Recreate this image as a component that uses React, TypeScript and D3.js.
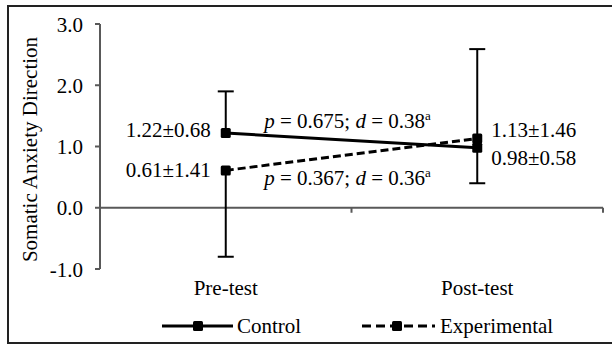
import React from "react";
import * as d3 from "d3";

const categories = ["Pre-test", "Post-test"];
const controlMean = [1.22, 0.98];
const controlSD = [0.68, 0.58];
const expMean = [0.61, 1.13];
const expSD = [1.41, 1.46];
// which side of the mean each group's error bar is drawn (+1 up, -1 down)
const controlBarSide = [1, -1];
const expBarSide = [-1, 1];
const yTicks = [-1, 0, 1, 2, 3];
const statLabels = [
  { p: "0.675", d: "0.38" },
  { p: "0.367", d: "0.36" },
];

const W = 612;
const H = 344;
const font = "'Liberation Serif', 'Times New Roman', serif";
const axisColor = "#595959";

const App = () => {
  const x = d3.scaleBand().domain(categories).range([100, 603]);
  const y = d3.scaleLinear().domain([-1, 3]).range([269, 24]);
  const cx = (c: string) => (x(c) as number) + x.bandwidth() / 2;

  const line = d3
    .line<number>()
    .x((_, i) => cx(categories[i]))
    .y((d) => y(d));

  const fmt = d3.format(".2f");
  const label = (m: number, s: number) => `${fmt(m)}±${fmt(s)}`;

  const errorBar = (c: string, m: number, s: number, side: number, key: string) => {
    const end = y(m + side * s);
    return (
      <g key={key} stroke="#000" strokeWidth={2}>
        <line x1={cx(c)} x2={cx(c)} y1={y(m)} y2={end} />
        <line x1={cx(c) - 8} x2={cx(c) + 8} y1={end} y2={end} />
      </g>
    );
  };

  const marker = (px: number, py: number, key: string) => (
    <rect key={key} x={px - 5} y={py - 5} width={10} height={10} rx={1.5} fill="#000" />
  );

  const midX = (cx(categories[0]) + cx(categories[1])) / 2 - 4;
  const ctrlMid = y((controlMean[0] + controlMean[1]) / 2);
  const expMid = y((expMean[0] + expMean[1]) / 2);

  const stat = (s: { p: string; d: string }, yy: number, key: string) => (
    <text key={key} x={midX} y={yy} textAnchor="middle">
      <tspan fontStyle="italic">p</tspan>
      {` = ${s.p}; `}
      <tspan fontStyle="italic">d</tspan>
      {` = ${s.d}`}
      <tspan fontSize={13} dy={-8}>a</tspan>
    </text>
  );

  return (
    <svg
      width={W}
      height={H}
      style={{ position: "absolute", left: 0, top: 0, background: "#fff", fontFamily: font, fontSize: 21 }}
    >
      <rect x={8} y={6} width={612} height={337} fill="#fff" stroke="#222" strokeWidth={2} />

      {/* y axis */}
      <line x1={100} x2={100} y1={y(3)} y2={y(-1)} stroke={axisColor} strokeWidth={2} />
      {yTicks.map((t) => (
        <g key={t}>
          <line x1={95} x2={100} y1={y(t)} y2={y(t)} stroke={axisColor} strokeWidth={2} />
          <text x={83} y={y(t) + 7.5} textAnchor="end">
            {t.toFixed(1)}
          </text>
        </g>
      ))}
      <text transform={`translate(37,${(y(3) + y(-1)) / 2 + 3}) rotate(-90)`} textAnchor="middle">
        Somatic Anxiety Direction
      </text>

      {/* x axis at zero */}
      <line x1={100} x2={603} y1={y(0)} y2={y(0)} stroke={axisColor} strokeWidth={2} />
      {[x.bandwidth() + 100, 603].map((tx) => (
        <line key={tx} x1={tx} x2={tx} y1={y(0)} y2={y(0) + 5} stroke={axisColor} strokeWidth={2} />
      ))}
      {categories.map((c) => (
        <text key={c} x={cx(c)} y={295} textAnchor="middle">
          {c}
        </text>
      ))}

      {/* error bars */}
      {categories.map((c, i) => errorBar(c, controlMean[i], controlSD[i], controlBarSide[i], `ce${i}`))}
      {categories.map((c, i) => errorBar(c, expMean[i], expSD[i], expBarSide[i], `ee${i}`))}

      {/* lines */}
      <path d={line(controlMean) as string} fill="none" stroke="#000" strokeWidth={3} />
      <path d={line(expMean) as string} fill="none" stroke="#000" strokeWidth={3} strokeDasharray="8,4" />
      {categories.map((c, i) => marker(cx(c), y(controlMean[i]), `cm${i}`))}
      {categories.map((c, i) => marker(cx(c), y(expMean[i]), `em${i}`))}

      {/* value labels */}
      <text x={cx(categories[0]) - 15} y={y(controlMean[0]) + 4} textAnchor="end">
        {label(controlMean[0], controlSD[0])}
      </text>
      <text x={cx(categories[0]) - 15} y={y(expMean[0]) + 6.5} textAnchor="end">
        {label(expMean[0], expSD[0])}
      </text>
      <text x={cx(categories[1]) + 14} y={y(expMean[1]) - 2}>
        {label(expMean[1], expSD[1])}
      </text>
      <text x={cx(categories[1]) + 14} y={y(controlMean[1]) + 17}>
        {label(controlMean[1], controlSD[1])}
      </text>

      {stat(statLabels[0], ctrlMid - 12, "s0")}
      {stat(statLabels[1], expMid + 30.5, "s1")}

      {/* legend */}
      <g>
        <line x1={162} x2={233} y1={326} y2={326} stroke="#000" strokeWidth={3} />
        {marker(198, 326, "lc")}
        <text x={237} y={333}>Control</text>
        <line x1={362} x2={435} y1={326} y2={326} stroke="#000" strokeWidth={3} strokeDasharray="9,5" />
        {marker(397, 326, "le")}
        <text x={440} y={333}>Experimental</text>
      </g>
    </svg>
  );
};

export default App;
